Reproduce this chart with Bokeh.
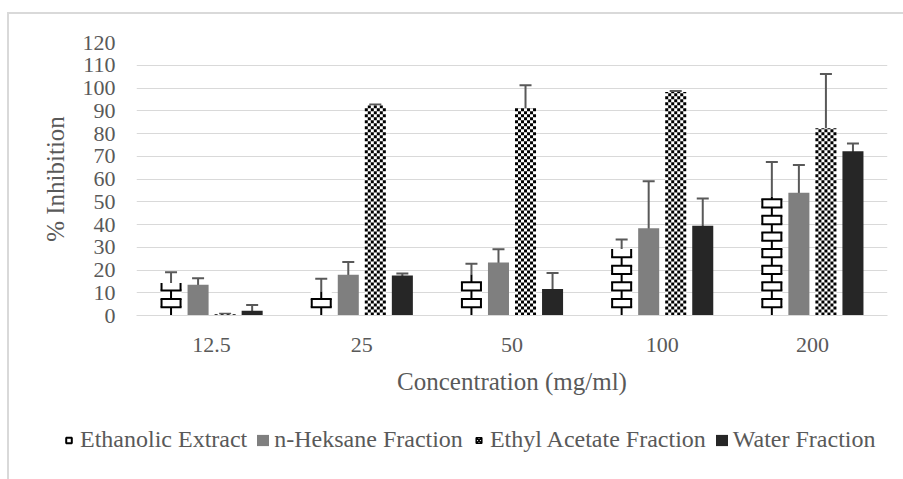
import math
from bokeh.plotting import figure
from bokeh.layouts import column
from bokeh.models import (ColumnDataSource, FactorRange, Range1d, FixedTicker, Whisker,
                          TeeHead, Legend, LegendItem)
from bokeh.transform import dodge
from bokeh.embed import file_html
from bokeh.resources import INLINE

# ---- data ----
concentrations = ["12.5", "25", "50", "100", "200"]
ethanolic = [14.3, 10.5, 18.0, 29.2, 52.2]
ethanolic_err = [4.7, 5.6, 4.8, 4.2, 15.3]
heksane = [13.5, 17.9, 23.3, 38.3, 54.0]
heksane_err = [2.9, 5.6, 5.8, 20.7, 12.1]
ethyl = [0.5, 92.3, 91.2, 98.2, 82.3]
ethyl_err = [0.3, 0.5, 10.0, 0.5, 23.9]
water = [2.1, 17.6, 11.7, 39.4, 72.2]
water_err = [2.5, 0.9, 7.0, 12.0, 3.4]
series_names = ["Ethanolic Extract", "n-Heksane Fraction", "Ethyl Acetate Fraction", "Water Fraction"]
y_ticks = [0, 10, 20, 30, 40, 50, 60, 70, 80, 90, 100, 110, 120]
x_title = "Concentration (mg/ml)"
y_title = "% Inhibition"

FONT = "Liberation Serif"
TXT = "#595959"

W = 0.14                       # bar width (category units)
offs = [-0.27, -0.09, 0.09, 0.27]
keys = ["eth", "hek", "eac", "wat"]

data = dict(conc=concentrations)
for key, vals, errs in [("eth", ethanolic, ethanolic_err), ("hek", heksane, heksane_err),
                        ("eac", ethyl, ethyl_err), ("wat", water, water_err)]:
    data[key] = vals
    data[key + "_lo"] = [v - e for v, e in zip(vals, errs)]
    data[key + "_hi"] = [v + e for v, e in zip(vals, errs)]
src = ColumnDataSource(data)

# ---- fill patterns, built from the bar values (synthetic categorical coordinates) ----
CELL_X, CELL_Y = W / 7, 1.32          # checkerboard cell
chk = dict(left=[], right=[], bottom=[], top=[])
for i, v in enumerate(ethyl):
    x0 = i + 0.5 + offs[2] - W / 2
    for r in range(math.ceil(v / CELL_Y)):
        for c in range(7):
            if (r + c) % 2 == 0:
                chk["left"].append(x0 + c * CELL_X)
                chk["right"].append(x0 + (c + 1) * CELL_X)
                chk["bottom"].append(r * CELL_Y)
                chk["top"].append(min((r + 1) * CELL_Y, v))

BRICK_H = 3.65
INSET = 0.0067
brk = dict(x0=[], y0=[], x1=[], y1=[])
for i, v in enumerate(ethanolic):
    cx = i + 0.5 + offs[0]
    rows = math.ceil(v / BRICK_H)
    for r in range(rows):
        yb, yt = r * BRICK_H, min((r + 1) * BRICK_H, v)
        if r > 0:
            brk["x0"].append(cx - W / 2); brk["x1"].append(cx + W / 2)
            brk["y0"].append(yb); brk["y1"].append(yb)
        xs = [cx] if r % 2 == 0 else [cx - W / 2 + INSET, cx + W / 2 - INSET]
        for xv in xs:
            brk["x0"].append(xv); brk["x1"].append(xv)
            brk["y0"].append(yb); brk["y1"].append(yt)

p = figure(x_range=FactorRange(*concentrations), y_range=Range1d(0, 120),
           width=903, height=400, output_backend="svg", toolbar_location=None,
           min_border_left=136, min_border_right=16, min_border_top=42, min_border_bottom=85)
p.background_fill_color = "white"
p.border_fill_alpha = 0
p.outline_line_color = None

colors = ["white", "#7f7f7f", "white", "#262626"]
for k, o, col in zip(keys, offs, colors):
    p.vbar(x=dodge("conc", o, range=p.x_range), top=k, width=W, bottom=0, source=src,
           fill_color=col, line_color=None)

p.quad(source=ColumnDataSource(chk), left="left", right="right", bottom="bottom", top="top",
       fill_color="black", line_color=None)
p.segment(source=ColumnDataSource(brk), x0="x0", y0="y0", x1="x1", y1="y1",
          line_color="black", line_width=2)

for k, o in zip(keys, offs):
    wk = Whisker(source=src, base=dodge("conc", o, range=p.x_range), upper=k + "_hi", lower=k + "_lo",
                 line_color="#595959", line_width=2,
                 upper_head=TeeHead(size=12, line_color="#595959", line_width=2),
                 lower_head=TeeHead(size=12, line_color="#595959", line_width=2))
    p.add_layout(wk)

# axes
p.yaxis.ticker = FixedTicker(ticks=y_ticks)
p.yaxis.axis_line_color = None
p.yaxis.major_tick_line_color = None
p.yaxis.minor_tick_line_color = None
p.yaxis.major_tick_out = 0
p.yaxis.major_label_standoff = 21
p.yaxis.axis_label = y_title
p.yaxis.axis_label_standoff = 11

p.xaxis.axis_line_color = "#d9d9d9"
p.xaxis.major_tick_line_color = None
p.xaxis.major_tick_out = 0
p.xaxis.major_label_standoff = 22
p.xaxis.axis_label = x_title
p.xaxis.axis_label_standoff = 13

for ax in (p.xaxis, p.yaxis):
    ax.major_label_text_font = FONT
    ax.major_label_text_font_size = "22px"
    ax.major_label_text_color = TXT
    ax.axis_label_text_font = FONT
    ax.axis_label_text_font_size = "25px"
    ax.axis_label_text_font_style = "normal"
    ax.axis_label_text_color = TXT

p.xgrid.visible = False
p.ygrid.grid_line_color = "#d9d9d9"
p.ygrid.grid_line_width = 1

# ---- legend strip (own figure; its series sit outside its visible y range) ----
lg = figure(width=903, height=79, x_range=FactorRange(*concentrations), y_range=Range1d(1000, 1001),
            output_backend="svg", toolbar_location=None, x_axis_type=None, y_axis_type=None,
            min_border=0, min_border_left=0, min_border_right=0, min_border_top=0, min_border_bottom=0)
lg.grid.visible = False
lg.outline_line_color = None
lg.background_fill_alpha = 0
lg.border_fill_alpha = 0
for fig in (p, lg):
    try:
        fig.frame_align = False
    except Exception:
        pass

r_eth = lg.scatter(x="conc", y="eth", source=src, marker="square", size=10,
                   fill_color="white", line_color="black", line_width=2)
r_hek = lg.vbar(x="conc", top="hek", width=W, source=src, fill_color="#7f7f7f", line_color=None)
r_eac = lg.scatter(x="conc", y="eac", source=src, marker="square_x", size=13,
                   fill_color="white", line_color="black", line_width=1.5)
r_wat = lg.vbar(x="conc", top="wat", width=W, source=src, fill_color="#262626", line_color=None)

legend = Legend(items=[LegendItem(label=n, renderers=[r])
                       for n, r in zip(series_names, [r_eth, r_hek, r_eac, r_wat])],
                orientation="horizontal", location=(61, 26),
                label_text_font=FONT, label_text_font_size="24px", label_text_color=TXT,
                glyph_width=15, glyph_height=14, label_standoff=4, spacing=8,
                padding=0, margin=0, border_line_color=None, background_fill_alpha=0)
lg.add_layout(legend)

layout = column(p, lg, spacing=0)
try:
    layout.styles = {
        "background": ("linear-gradient(#d9d9d9, #d9d9d9) 7px 12px / 2px 100% no-repeat, "
                       "linear-gradient(#d9d9d9, #d9d9d9) 7px 12px / 100% 2px no-repeat, white"),
    }
except Exception:
    pass

open("out.html", "w").write(file_html(layout, INLINE))
